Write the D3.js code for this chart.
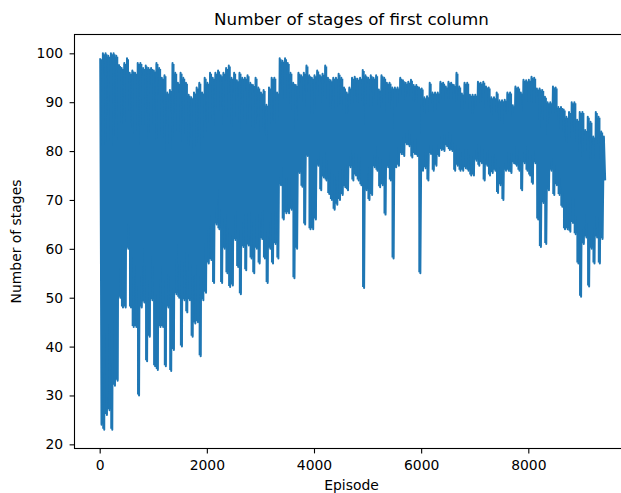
<!DOCTYPE html>
<html>
<head>
<meta charset="utf-8">
<script src="https://cdn.jsdelivr.net/npm/d3@7"></script>
<style>
  body { margin: 0; background: #fff; }
  svg { display: block; font-family: "DejaVu Sans", sans-serif; }
</style>
</head>
<body>
<div id="chart"></div>
<script>
// Episodes are grouped in bins of 50; for each bin the highest and lowest
// number of stages
const episodeStep = 50;

const stagesHigh = [
  99, 100, 100, 99.5, 100, 100, 99.5, 97.6, 97, 98,
  99, 96, 96.5, 96, 98, 98, 97, 97.5, 97, 97,
  96.5, 98, 97, 95, 95.5, 92, 92.5, 98, 96, 94,
  96, 95, 94, 91.5, 91, 92, 93, 94, 92, 95,
  94, 96, 95, 96, 96.5, 95.5, 96, 97, 97.5, 95,
  96, 94.5, 96, 95, 95, 95.5, 94, 93.5, 95, 93,
  92, 92.5, 89.5, 93, 95, 95, 92, 99, 98.5, 99,
  98, 96, 94, 93.5, 96, 95.5, 96, 97.5, 95.5, 95,
  95.5, 96.5, 95.5, 95.8, 97.5, 95, 94.5, 95, 95, 95.8,
  95, 93, 92, 93, 95, 95.2, 94.8, 95, 96.6, 95.5,
  95, 95.5, 95, 95.5, 92.6, 95.5, 95, 94, 94, 93,
  93, 93, 95, 94.5, 94, 94.2, 94.6, 93.5, 93.5, 93,
  92.8, 91, 91.2, 94, 92, 92, 92, 94.2, 94, 93.2,
  94.2, 94, 93.5, 96, 93.2, 91.8, 94, 94, 91.5, 91.5,
  91.5, 94.2, 94, 94.2, 93.2, 93, 91, 91, 92, 90.4,
  90.4, 90.5, 92, 92, 89.4, 93.2, 93, 92, 94.6, 94.5,
  94.6, 95.2, 95, 92.8, 92.8, 92.5, 91.1, 90, 90, 93.2,
  93, 89, 89, 88.5, 87, 88, 90, 90, 86.4, 88,
  88, 84.3, 87, 86, 83, 88, 87, 84, 83
];

const stagesLow = [
  24, 23, 26, 27, 23, 32, 33, 50, 48, 48,
  60, 48, 44, 44, 30, 48, 49, 37, 42, 49.5,
  36, 35.2, 44, 44, 36, 48, 35, 39.3, 50.7, 50,
  40, 49.5, 47, 49.5, 42, 44.7, 45, 38, 49.5, 51,
  57, 57.7, 53, 65, 64, 53, 60, 55, 52.2, 52.5,
  61.8, 56.3, 50.7, 60.4, 55.6, 60.7, 58, 55, 60, 57,
  62, 58, 53, 60, 57, 61, 58, 73, 66, 67.3,
  67.3, 68, 54, 60, 75.5, 72.7, 65, 79, 64, 64,
  66, 77, 72, 74.6, 74, 71.2, 70, 68, 69, 70,
  71, 72.6, 72, 76.7, 74, 75, 74, 73, 52, 72,
  70, 71, 76.7, 76, 72.6, 73, 67, 76.7, 74, 58,
  76.7, 77, 79.4, 79, 81.4, 81, 78.7, 79.4, 79, 55,
  76, 76.5, 74, 79.4, 76, 77, 79, 80.2, 80, 81,
  80.2, 80, 76, 77, 76, 76, 76.5, 76, 75, 75,
  78, 77, 77.5, 74, 77, 75, 75.5, 76, 71.4, 73,
  70, 76, 76, 75.5, 77.5, 77, 76, 72, 77.5, 76,
  75, 73.3, 77.5, 66, 60.4, 69.4, 61, 72, 76, 71,
  73, 71, 68.6, 64, 64, 63.5, 65.3, 63, 57, 50.2,
  61, 62.3, 52.3, 60, 57, 62.3, 57, 62, 74
];

const xTicks = [0, 2000, 4000, 6000, 8000];
const yTicks = [20, 30, 40, 50, 60, 70, 80, 90, 100];

const width = 621;
const height = 493;
// axes box; the right edge falls just outside the picture
const plot = { left: 74.5, right: 628.5, top: 34.5, bottom: 448.5 };
const lineColor = "#1f77b4";

const x = d3.scaleLinear().domain([-470, 9870]).range([plot.left, plot.right]);
const y = d3.scaleLinear().domain([19.15, 103.85]).range([plot.bottom, plot.top]);

// the line visits each bin's max then its min, like the dense original
const points = [];
stagesHigh.forEach((hi, i) => {
  points.push([i * episodeStep + 10, hi]);
  points.push([i * episodeStep + 35, stagesLow[i]]);
});

const bins = stagesHigh.map((hi, i) => ({
  episode: i * episodeStep + 22,
  hi: hi,
  lo: stagesLow[i]
}));

const svg = d3.select("#chart")
  .append("svg")
  .attr("width", width)
  .attr("height", height);

// solid band under the line so the dense zigzag has no gaps
const band = d3.area()
  .x((d) => x(d.episode))
  .y0((d) => y(d.lo) - 1)
  .y1((d) => y(d.hi) + 1)
  .curve(d3.curveStep);

svg.append("path")
  .datum(bins)
  .attr("fill", lineColor)
  .attr("d", band);

const line = d3.line()
  .x((d) => x(d[0]))
  .y((d) => y(d[1]));

svg.append("path")
  .datum(points)
  .attr("fill", "none")
  .attr("stroke", lineColor)
  .attr("stroke-width", 2)
  .attr("stroke-linejoin", "round")
  .attr("stroke-linecap", "butt")
  .attr("d", line);

// axes
const xAxis = svg.append("g")
  .attr("transform", `translate(0,${plot.bottom})`)
  .call(d3.axisBottom(x).tickValues(xTicks).tickFormat(d3.format("d"))
    .tickSize(4.9).tickSizeOuter(0).tickPadding(7));

const yAxis = svg.append("g")
  .attr("transform", `translate(${plot.left},0)`)
  .call(d3.axisLeft(y).tickValues(yTicks).tickFormat(d3.format("d"))
    .tickSize(4.9).tickSizeOuter(0).tickPadding(6.5));

[xAxis, yAxis].forEach((g) => {
  g.select(".domain").remove();
  g.attr("font-family", null).attr("font-size", null);
  g.selectAll(".tick line").attr("stroke", "#000").attr("stroke-width", 1.1);
  g.selectAll(".tick text")
    .attr("fill", "#000")
    .style("font-family", "'DejaVu Sans', sans-serif")
    .style("font-size", "13.9px");
});

// spines
svg.append("rect")
  .attr("x", plot.left)
  .attr("y", plot.top)
  .attr("width", plot.right - plot.left)
  .attr("height", plot.bottom - plot.top)
  .attr("fill", "none")
  .attr("stroke", "#000")
  .attr("stroke-width", 1.1);

const midX = (plot.left + plot.right) / 2;

svg.append("text")
  .attr("x", midX)
  .attr("y", 25)
  .attr("text-anchor", "middle")
  .style("font-size", "16.7px")
  .text("Number of stages of first column");

svg.append("text")
  .attr("x", midX)
  .attr("y", 490)
  .attr("text-anchor", "middle")
  .style("font-size", "13.9px")
  .text("Episode");

svg.append("text")
  .attr("transform", `translate(21,${(plot.top + plot.bottom) / 2}) rotate(-90)`)
  .attr("text-anchor", "middle")
  .style("font-size", "13.9px")
  .text("Number of stages");
</script>
</body>
</html>
